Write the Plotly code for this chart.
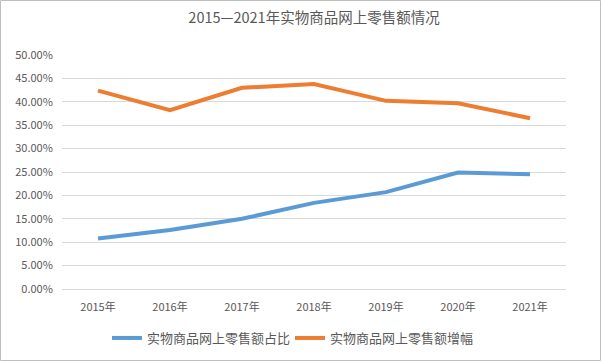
import plotly.graph_objects as go

years = ["2015年", "2016年", "2017年", "2018年", "2019年", "2020年", "2021年"]
share = [10.8, 12.6, 15.0, 18.4, 20.7, 24.9, 24.5]
growth = [42.4, 38.2, 43.0, 43.8, 40.2, 39.7, 36.5]
series_names = ["实物商品网上零售额占比", "实物商品网上零售额增幅"]
title_text = "2015—2021年实物商品网上零售额情况"

W, H = 602, 362
ml, mr, mt, mb = 62, 36, 55, 73
pw, ph = W - ml - mr, H - mt - mb

fig = go.Figure()
fig.add_trace(go.Scatter(x=years, y=share, mode="lines", name=series_names[0],
                         line=dict(color="#5b9bd5", width=4)))
fig.add_trace(go.Scatter(x=years, y=growth, mode="lines", name=series_names[1],
                         line=dict(color="#ed7d31", width=4)))

font_family = "Noto Sans CJK SC, Noto Sans, sans-serif"
fig.update_layout(
    width=W, height=H,
    margin=dict(l=ml, r=mr, t=mt, b=mb, autoexpand=False),
    paper_bgcolor="white", plot_bgcolor="white",
    font=dict(family=font_family, color="#595959", size=11),
    title=dict(text=title_text, x=0.5, xref="paper", xanchor="center",
               y=1 - 18 / H, yanchor="middle",
               font=dict(size=14.5, color="#595959", family=font_family)),
    showlegend=True,
    legend=dict(orientation="h", x=(290 - ml) / pw, xanchor="center", xref="paper",
                y=-(338 - 289) / ph, yanchor="middle",
                font=dict(size=13, color="#595959"), itemwidth=30,
                entrywidth=138, entrywidthmode="pixels",
                bgcolor="rgba(0,0,0,0)"),
    xaxis=dict(showgrid=False, showline=True, linecolor="#d9d9d9", linewidth=1,
               range=[-0.5, 6.5], automargin=False,
               ticks="outside", ticklen=8, tickcolor="rgba(0,0,0,0)",
               tickfont=dict(size=11, color="#595959"), fixedrange=True),
    yaxis=dict(range=[0, 50], dtick=5, tickformat=".2f", ticksuffix="%",
               automargin=False,
               showgrid=True, gridcolor="#d9d9d9", gridwidth=1, zeroline=False,
               ticks="outside", ticklen=6, tickcolor="rgba(0,0,0,0)",
               tickfont=dict(size=11, color="#595959"), fixedrange=True),
    shapes=[dict(type="rect", xref="paper", yref="paper",
                 x0=(0.5 - ml) / pw, x1=(W - 1.5 - ml) / pw,
                 y0=-(H - 1.5 - mt - ph) / ph, y1=1 + (mt - 0.5) / ph,
                 line=dict(color="#bfbfbf", width=1), layer="below")],
)

fig.write_html("out.html", config={"displayModeBar": False},
               post_script="document.body.style.margin='0';document.body.style.overflow='hidden';")
